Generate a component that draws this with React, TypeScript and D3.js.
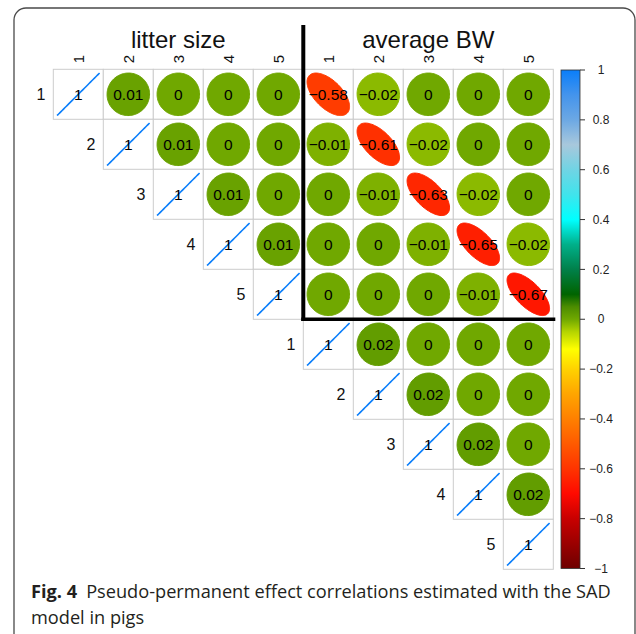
import React from "react";
import * as d3 from "d3";

const varLabels = ["1", "2", "3", "4", "5", "1", "2", "3", "4", "5"];
const groupTitles = ["litter size", "average BW"];
// upper triangle rows (starting at diagonal)
const row1 = [1, 0.01, 0, 0, 0, -0.58, -0.02, 0, 0, 0];
const row2 = [1, 0.01, 0, 0, -0.01, -0.61, -0.02, 0, 0];
const row3 = [1, 0.01, 0, 0, -0.01, -0.63, -0.02, 0];
const row4 = [1, 0.01, 0, 0, -0.01, -0.65, -0.02];
const row5 = [1, 0, 0, 0, -0.01, -0.67];
const row6 = [1, 0.02, 0, 0, 0];
const row7 = [1, 0.02, 0, 0];
const row8 = [1, 0.02, 0];
const row9 = [1, 0.02];
const row10 = [1];
const rows = [row1, row2, row3, row4, row5, row6, row7, row8, row9, row10];

const legendTicks = [1, 0.8, 0.6, 0.4, 0.2, 0, -0.2, -0.4, -0.6, -0.8, -1];
const colorDomain = [-1, -0.8, -0.7, -0.6, -0.5, -0.4, -0.3, -0.2, -0.12, -0.05, 0, 0.05, 0.1, 0.2, 0.3, 0.4, 0.5, 0.6, 0.7, 0.8, 0.9, 1];
const colorRange = ["#6E0000", "#C80000", "#FF0A00", "#FF3400", "#FF5A00", "#FF8000", "#FFA500", "#FFD200", "#FFFF00", "#B4D400", "#70A800", "#4C8C00", "#006400", "#00804A", "#00B08A", "#00FFFF", "#40E4EC", "#70D4E4", "#A8C8DC", "#6CA8E4", "#4494EC", "#0A7EFA"];

const captionBold = "Fig. 4";
const captionLine1 = "Pseudo-permanent effect correlations estimated with the SAD";
const captionLine2 = "model in pigs";

const fmt = (v: number) => (v === 1 ? "1" : d3.format(".2~f")(v).replace("-", "\u2212"));

function ellipsePath(r: number, cx: number, cy: number, size: number) {
  const a = Math.acos(Math.max(-1, Math.min(1, r))) / 2;
  const pts: [number, number][] = d3.range(99).map((i) => {
    const k = (i / 98) * 2 * Math.PI;
    return [cx + 0.85 * size * Math.cos(k + a) / 2, cy - 0.85 * size * Math.cos(k - a) / 2];
  });
  return d3.line()(pts) + "Z";
}

export default function App() {
  const n = varLabels.length;
  const x = d3.scaleBand<number>().domain(d3.range(n)).range([53.3, 553.3]);
  const y = d3.scaleBand<number>().domain(d3.range(n)).range([69.3, 569.3]);
  const bw = x.bandwidth();
  const color = d3.scaleLinear<string>().domain(colorDomain).range(colorRange).interpolate(d3.interpolateRgb);
  const ly = d3.scaleLinear().domain([-1, 1]).range([568.5, 70]);
  const font = "'Liberation Sans', Arial, sans-serif";

  const cells: { i: number; j: number; v: number }[] = [];
  rows.forEach((r, i) => r.forEach((v, k) => cells.push({ i, j: i + k, v })));

  return (
    <svg width={636} height={634} style={{ position: "absolute", left: 0, top: 0, background: "#fff" }}>
      <rect x={14} y={8} width={621} height={700} rx={12} fill="#fff" stroke="#4a4a4a" strokeWidth={1.3} />
      {/* group titles */}
      {groupTitles.map((t, g) => (
        <text key={t} x={x(g * 5)! + bw * 2.5} y={48} textAnchor="middle" fontFamily={font} fontSize={24} fill="#111">{t}</text>
      ))}
      {/* column labels */}
      {varLabels.map((l, j) => (
        <text key={"c" + j} transform={`translate(${x(j)! + bw / 2},59) rotate(-90)`} textAnchor="middle" dy="0.35em" fontFamily={font} fontSize={15} fill="#111">{l}</text>
      ))}
      {/* row labels */}
      {varLabels.map((l, i) => (
        <text key={"r" + i} x={x(i)! - 8} y={y(i)! + bw / 2} dy="0.35em" textAnchor="end" fontFamily={font} fontSize={16} fill="#111">{l}</text>
      ))}
      {/* cells */}
      {cells.map((c) => (
        <rect key={`g${c.i}-${c.j}`} x={x(c.j)} y={y(c.i)} width={bw} height={bw} fill="#fff" stroke="#cccccc" strokeWidth={1} />
      ))}
      {cells.map((c) => {
        const cx = x(c.j)! + bw / 2;
        const cy = y(c.i)! + bw / 2;
        const col = color(c.v);
        return (
          <g key={`e${c.i}-${c.j}`}>
            <path d={ellipsePath(c.v, cx, cy, bw)} fill={c.v === 1 ? "none" : col} stroke={col} strokeWidth={c.v === 1 ? 1.6 : 1} />
            <text x={cx} y={cy} dy="0.36em" textAnchor="middle" fontFamily={font} fontSize={15.5} fill="#000">{fmt(c.v)}</text>
          </g>
        );
      })}
      {/* group separators */}
      <line x1={x(5)} x2={x(5)} y1={25} y2={321} stroke="#000" strokeWidth={4} />
      <line x1={x(5)! - 2} x2={x(9)! + bw + 2} y1={y(5)} y2={y(5)} stroke="#000" strokeWidth={3.5} />
      {/* color legend */}
      <defs>
        <linearGradient id="cbar" x1="0" y1="1" x2="0" y2="0">
          {colorDomain.map((d, k) => (
            <stop key={k} offset={(d + 1) / 2} stopColor={colorRange[k]} />
          ))}
        </linearGradient>
      </defs>
      <rect x={561} y={ly(1)} width={19} height={ly(-1) - ly(1)} fill="url(#cbar)" stroke="#333" strokeWidth={0.8} />
      {legendTicks.map((t) => (
        <g key={"t" + t}>
          <line x1={580} x2={585} y1={ly(t)} y2={ly(t)} stroke="#333" strokeWidth={1} />
          <text x={601} y={ly(t)} dy="0.35em" textAnchor="middle" fontFamily={font} fontSize={12} fill="#222">{t < 0 ? "\u2212" + Math.abs(t) : String(t)}</text>
        </g>
      ))}
      {/* caption */}
      <text x={31} y={598} fontFamily="'Open Sans', sans-serif" fontSize={18.2} fill="#231f20">
        <tspan fontWeight="bold">{captionBold}</tspan>
        <tspan dx={9}>{captionLine1}</tspan>
      </text>
      <text x={31} y={624} fontFamily="'Open Sans', sans-serif" fontSize={18.2} fill="#231f20">{captionLine2}</text>
    </svg>
  );
}
